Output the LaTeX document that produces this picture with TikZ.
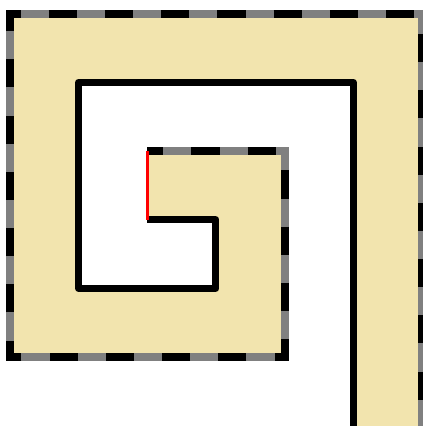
\documentclass[tikz,border=0pt]{standalone}
\usepackage{xcolor}
\usepackage{tikz}
\definecolor{spiralfill}{RGB}{242, 228, 174}
\definecolor{edgegray}{RGB}{128, 128, 128}
\definecolor{seamred}{RGB}{255, 0, 0}

\begin{document}
\begin{tikzpicture}[
  spiralregion/.style={fill=spiralfill, draw=none},
  openedge/.style={draw=edgegray, line width=3.4pt, line join=miter},
  openedgedash/.style={draw=black, line width=3.4pt, line join=miter, dash pattern=on 11.65pt off 11.65pt, dash phase=5.0pt},
  walledge/.style={draw=black, line width=2.9pt, line join=round},
  seamedge/.style={draw=seamred, line width=1pt}
]
\useasboundingbox (-0.145,-6.003) rectangle (6,0.2);
% outer (dashed) edge of the spiral band
\coordinate (o1) at (2,-2);
\coordinate (o2) at (4,-2);
\coordinate (o3) at (4,-5);
\coordinate (o4) at (0,-5);
\coordinate (o5) at (0,0);
\coordinate (o6) at (6,0);
\coordinate (o7) at (6,-6.3);
% inner (solid) edge of the spiral band
\coordinate (w1) at (5,-6.3);
\coordinate (w2) at (5,-1);
\coordinate (w3) at (1,-1);
\coordinate (w4) at (1,-4);
\coordinate (w5) at (3,-4);
\coordinate (w6) at (3,-3);
\coordinate (w7) at (2,-3);

\fill[spiralregion] (o1) -- (o2) -- (o3) -- (o4) -- (o5) -- (o6) -- (o7)
  -- (w1) -- (w2) -- (w3) -- (w4) -- (w5) -- (w6) -- (w7) -- cycle;

\draw[openedge] (o1) -- (o2) -- (o3) -- (o4) -- (o5) -- (o6) -- (o7);
\draw[openedgedash] (o1) -- (o2) -- (o3) -- (o4) -- (o5) -- (o6) -- (o7);
\draw[walledge] (w1) -- (w2) -- (w3) -- (w4) -- (w5) -- (w6) -- (w7);
\draw[seamedge] (w7) -- (o1);
\end{tikzpicture}
\end{document}
